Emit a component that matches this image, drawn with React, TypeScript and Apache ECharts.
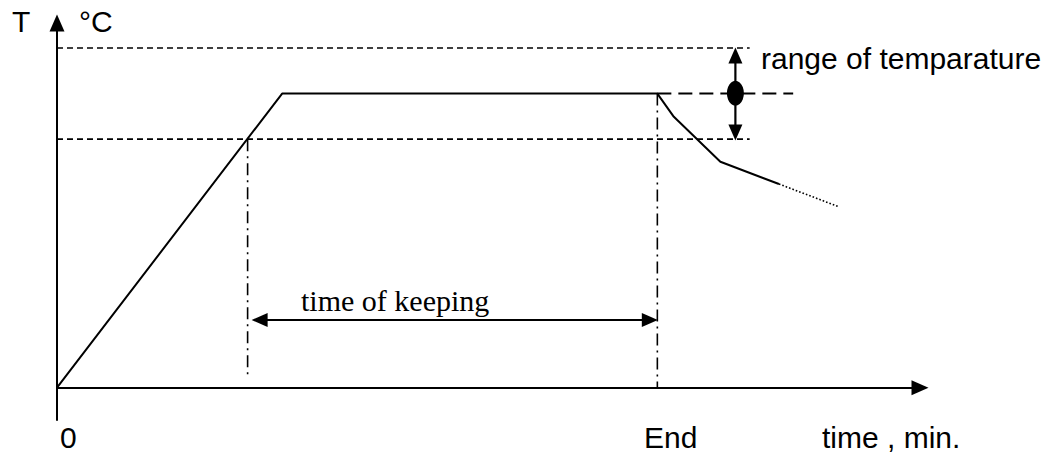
import React, { useEffect, useRef } from "react";
import * as echarts from "echarts";

// ---- data (time units on x, temperature units on y) ----
const heatingCurve: number[][] = [
  [0, 0],
  [30, 100],
  [80, 100],
  [82.2, 92.1],
  [88.4, 76.8],
  [96.2, 69.25],
];
const coolingTail: number[][] = [
  [96.2, 69.25],
  [104.2, 61.5],
];
const upperLimit: number[][] = [
  [0, 115.5],
  [92.3, 115.5],
];
const lowerLimit: number[][] = [
  [0, 84.5],
  [92.3, 84.5],
];
const setPointLine: number[][] = [
  [80, 100],
  [98.1, 100],
];
const startMarker: number[][] = [
  [25.4, 84.5],
  [25.4, 3.3],
];
const endMarker: number[][] = [
  [80, 100],
  [80, 0],
];
const keepingArrow: number[][] = [
  [27, 23],
  [79, 23],
];
const rangeArrow: number[][] = [
  [90.4, 112.95],
  [90.4, 86.8],
];
const rangeDot: number[][] = [[90.4, 100.1]];

const xRange = [0, 115];
const yRange = [-11, 124];

const SANS = '"Liberation Sans", Arial, sans-serif';
const SERIF = '"Liberation Serif", "Times New Roman", serif';

export default function App() {
  const ref = useRef<HTMLDivElement>(null);

  useEffect(() => {
    if (!ref.current) return;
    const chart = echarts.init(ref.current, undefined, { renderer: "svg" });

    const plain = (
      data: any[],
      width: number,
      type: any,
      extra: any = {}
    ) => ({
      type: "line",
      data,
      symbol: "none",
      silent: true,
      smooth: false,
      lineStyle: { color: "#000", width, type, cap: "butt", opacity: 1 },
      itemStyle: { color: "#000", opacity: 1 },
      emphasis: { disabled: true },
      ...extra,
    });

    const text = (t: string, x: number, y: number, size: number, family: string) => ({
      type: "text",
      x,
      y,
      silent: true,
      style: {
        text: t,
        fontSize: size,
        fontFamily: family,
        fill: "#000",
        align: "left",
        verticalAlign: "middle",
      },
    });

    chart.setOption({
      animation: false,
      backgroundColor: "#fff",
      grid: { left: 57, right: 130, top: 23, bottom: 33, containLabel: false },
      xAxis: {
        type: "value",
        min: xRange[0],
        max: xRange[1],
        axisLine: {
          show: true,
          onZero: true,
          symbol: ["none", "triangle"],
          symbolSize: [15, 17],
          lineStyle: { color: "#000", width: 2 },
        },
        axisTick: { show: false },
        axisLabel: { show: false },
        splitLine: { show: false },
      },
      yAxis: {
        type: "value",
        min: yRange[0],
        max: yRange[1],
        axisLine: {
          show: true,
          onZero: true,
          symbol: ["none", "triangle"],
          symbolSize: [15, 17],
          lineStyle: { color: "#000", width: 2 },
        },
        axisTick: { show: false },
        axisLabel: { show: false },
        splitLine: { show: false },
      },
      series: [
        plain(upperLimit, 1.6, [6, 4]),
        plain(lowerLimit, 1.6, [6, 4]),
        plain(setPointLine, 2, [14, 7]),
        plain(startMarker, 1.6, [12, 5, 2, 5]),
        plain(endMarker, 1.6, [12, 5, 2, 5]),
        plain(heatingCurve, 2, "solid"),
        plain(coolingTail, 1.6, [1.6, 2]),
        plain(
          keepingArrow.map((p, i) => ({
            value: p,
            symbol: "triangle",
            symbolRotate: i === 0 ? 90 : -90,
          })),
          2.2,
          "solid",
          { symbol: "triangle", showSymbol: true, symbolSize: [14, 16] }
        ),
        plain(
          rangeArrow.map((p, i) => ({
            value: p,
            symbol: "triangle",
            symbolRotate: i === 0 ? 0 : 180,
          })),
          2.2,
          "solid",
          { symbol: "triangle", showSymbol: true, symbolSize: [14, 16] }
        ),
        {
          type: "scatter",
          data: rangeDot,
          symbol: "circle",
          symbolSize: [17, 25],
          silent: true,
          itemStyle: { color: "#000", opacity: 1 },
          emphasis: { disabled: true },
        },
      ],
      graphic: [
        text("T", 12, 21.5, 30, SANS),
        text("°C", 79, 21.8, 30, SANS),
        text("range of temparature", 761, 58, 30, SANS),
        text("time of keeping", 301, 300, 30, SERIF),
        text("0", 60, 437.5, 30, SANS),
        text("End", 644, 437.8, 30, SANS),
        text("time , min.", 822, 437.8, 30, SANS),
      ],
    });

    return () => chart.dispose();
  }, []);

  return (
    <div
      ref={ref}
      style={{ position: "fixed", left: 0, top: 0, width: 1050, height: 453, background: "#fff" }}
    />
  );
}
